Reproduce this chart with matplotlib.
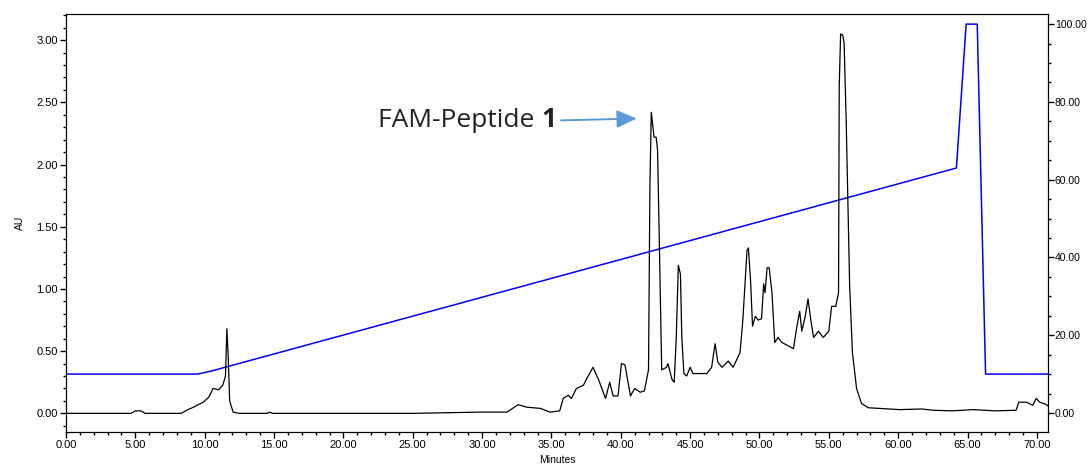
import matplotlib.pyplot as plt
from matplotlib.ticker import MultipleLocator, FormatStrFormatter

# UV trace (AU)
trace_min = [0.0, 4.7, 5.0, 5.4, 5.7, 8.3, 8.8, 9.2, 9.9, 10.3, 10.6, 11.0, 11.3, 11.5,
             11.6, 11.7, 11.8, 12.05, 12.5, 14.5, 14.7, 14.9, 20.0, 25.0, 29.85, 31.8, 32.6, 33.2,
             34.2, 34.9, 35.6, 35.85, 36.2, 36.45, 36.8, 37.3, 37.55, 38.0, 38.4, 38.9,
             39.2, 39.45, 39.8, 40.05, 40.3, 40.7, 41.0, 41.4, 41.7, 42.0, 42.1, 42.2,
             42.4, 42.55, 42.65, 42.75, 42.95, 43.3, 43.4, 43.7, 43.85, 44.0, 44.15,
             44.3, 44.4, 44.55, 44.75, 45.0, 45.2, 46.2, 46.55, 46.8, 47.0, 47.3, 47.75,
             48.1, 48.6, 48.8, 49.1, 49.2, 49.35, 49.5, 49.7, 49.9, 50.15, 50.3, 50.4,
             50.55, 50.7, 50.9, 51.1, 51.35, 51.6, 51.95, 52.45, 52.7, 52.9, 53.05, 53.3,
             53.5, 53.7, 53.9, 54.25, 54.6, 55.0, 55.2, 55.5, 55.7, 55.75, 55.85, 56.0,
             56.1, 56.25, 56.35, 56.5, 56.7, 57.0, 57.35, 57.85, 60.1, 61.7, 62.5, 63.85,
             65.4, 67.0, 68.5, 68.7, 69.25, 69.7, 69.95, 70.2, 70.6, 70.8]
trace_au = [0.0, 0.0, 0.02, 0.02, 0.0, 0.0, 0.03, 0.05, 0.09, 0.13, 0.2, 0.19, 0.225, 0.3,
            0.68, 0.45, 0.1, 0.01, 0.0, 0.0, 0.01, 0.0, 0.0, 0.0, 0.01, 0.01, 0.07, 0.05,
            0.04, 0.01, 0.02, 0.12, 0.145, 0.12, 0.2, 0.225, 0.28, 0.37, 0.27, 0.12,
            0.25, 0.14, 0.14, 0.4, 0.39, 0.14, 0.2, 0.17, 0.18, 0.35, 1.82, 2.42,
            2.22, 2.22, 2.12, 1.55, 0.35, 0.37, 0.4, 0.27, 0.25, 0.61, 1.19,
            1.12, 0.61, 0.32, 0.3, 0.37, 0.32, 0.32, 0.37, 0.56, 0.41, 0.37, 0.42,
            0.37, 0.49, 0.75, 1.31, 1.33, 1.08, 0.7, 0.78, 0.75, 0.76, 1.04, 0.97,
            1.17, 1.17, 0.97, 0.57, 0.61, 0.57, 0.55, 0.52, 0.7, 0.82, 0.66, 0.78,
            0.92, 0.75, 0.61, 0.66, 0.61, 0.66, 0.86, 0.86, 0.97, 2.63, 3.05, 3.04,
            2.98, 2.36, 1.82, 1.03, 0.49, 0.2, 0.08, 0.045, 0.03, 0.035, 0.025, 0.02,
            0.03, 0.02, 0.025, 0.09, 0.09, 0.065, 0.12, 0.09, 0.075, 0.06]

# solvent gradient (% B)
grad_min = [0.0, 9.5, 10.5, 64.2, 64.9, 65.7, 66.3, 70.8]
grad_pct = [10.0, 10.0, 10.8, 63.0, 100.0, 100.0, 10.0, 10.0]

plt.rcParams['font.family'] = ['Liberation Sans', 'DejaVu Sans']

fig = plt.figure(figsize=(10.87, 4.75), dpi=100)
ax = fig.add_axes([0.0607, 0.0905, 0.9034, 0.88])
ax.plot(trace_min, trace_au, color='black', lw=0.9, zorder=3)
ax.set_xlim(0, 70.8)
ax.set_ylim(-0.15, 3.21)
ax.xaxis.set_major_locator(MultipleLocator(5))
ax.xaxis.set_minor_locator(MultipleLocator(1))
ax.yaxis.set_major_locator(MultipleLocator(0.5))
ax.yaxis.set_minor_locator(MultipleLocator(0.1))
ax.xaxis.set_major_formatter(FormatStrFormatter('%.2f'))
ax.yaxis.set_major_formatter(FormatStrFormatter('%.2f'))
ax.tick_params(which='major', direction='out', length=4, width=1, labelsize=8, pad=2)
ax.tick_params(which='minor', direction='out', length=2.5, width=1)
ax.set_xlabel('Minutes', fontsize=7.5, labelpad=3)
ax.set_ylabel('AU', fontsize=7.5, labelpad=8)

ax2 = ax.twinx()
ax2.plot(grad_min, grad_pct, color='#0000ff', lw=1.1, zorder=2)
ax2.set_ylim(-4.9, 102.6)
ax2.yaxis.set_major_locator(MultipleLocator(20))
ax2.yaxis.set_minor_locator(MultipleLocator(5))
ax2.yaxis.set_major_formatter(FormatStrFormatter('%.2f'))
ax2.tick_params(which='major', direction='out', length=4, width=1, labelsize=7.5, pad=1)
ax2.tick_params(which='minor', direction='out', length=2.5, width=1)

ax.set_zorder(ax2.get_zorder() + 1)
ax.patch.set_visible(False)

# label for the product peak
ax.text(34.25, 2.30, 'FAM-Peptide ', fontsize=19, ha='right', va='baseline',
        family=['Open Sans', 'DejaVu Sans'], color='#222222')
ax.text(34.25, 2.30, '1', fontsize=19, fontweight='bold', ha='left', va='baseline',
        family=['Open Sans', 'DejaVu Sans'], color='#222222')
ax.annotate('', xy=(41.15, 2.37), xytext=(35.7, 2.355),
            arrowprops=dict(arrowstyle='-|>,head_length=0.45,head_width=0.2',
                            color='#5b9bd5', lw=1.4, mutation_scale=27,
                            shrinkA=0, shrinkB=0))

fig.savefig('out.png', dpi=100)
